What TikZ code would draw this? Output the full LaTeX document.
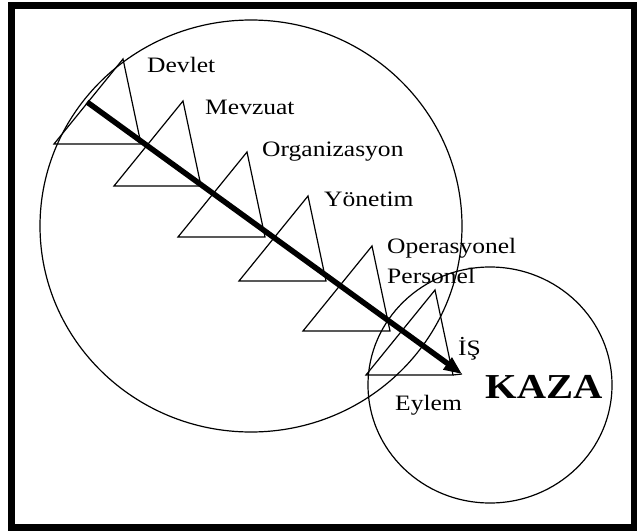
\documentclass[tikz,border=0pt]{standalone}
\usepackage{fontspec}
\setmainfont{Liberation Serif}
\usetikzlibrary{arrows.meta}
\begin{document}
\begin{tikzpicture}[x=1pt,y=-1pt,
  thinline/.style={line width=1.2pt, line join=miter},
  lbl/.style={font=\fontsize{22}{24}\selectfont, anchor=base west, inner sep=0pt, xscale=1.16},
  biglbl/.style={font=\fontsize{35}{38}\selectfont\bfseries, anchor=base west, inner sep=0pt, xscale=1.16},
  frame/.style={line width=7pt},
  mainarrow/.style={line width=5.5pt, -{Triangle[length=18pt,width=14pt]}}]
\useasboundingbox (0,0) rectangle (637,532);
\fill[white] (0,0) rectangle (637,532);
\draw[frame] (11.5,6) rectangle (634,527);
% circles
\draw[thinline] (251,226) ellipse [x radius=211, y radius=206];
\draw[thinline] (490,385) ellipse [x radius=122, y radius=118];
% triangles
\foreach \x/\y in {123/59,183/101,247/152,308/196,372/246,435/290}
  \draw[thinline] (\x,\y) -- (\x-69,\y+85) -- (\x+18,\y+85) -- cycle;
\coordinate (start) at (87,102);
\coordinate (tip) at (462,374);
\coordinate (lastbase) at (453,375);
\draw[thinline] (lastbase) -- (tip);
\draw[mainarrow] (start) -- (tip);
% labels
\node[lbl] (devlet) at (147,73) {Devlet};
\node[lbl] (mevzuat) at (205,115) {Mevzuat};
\node[lbl] (org) at (262,157) {Organizasyon};
\node[lbl] (yon) at (324,206) {Yönetim};
\node[lbl] (ope) at (387,253) {Operasyonel};
\node[lbl] (per) at (387,283) {Personel};
\node[lbl] (is) at (458,355) {İŞ};
\node[lbl] (eylem) at (395,410) {Eylem};
\node[biglbl] (kaza) at (485,398) {KAZA};
\end{tikzpicture}
\end{document}
